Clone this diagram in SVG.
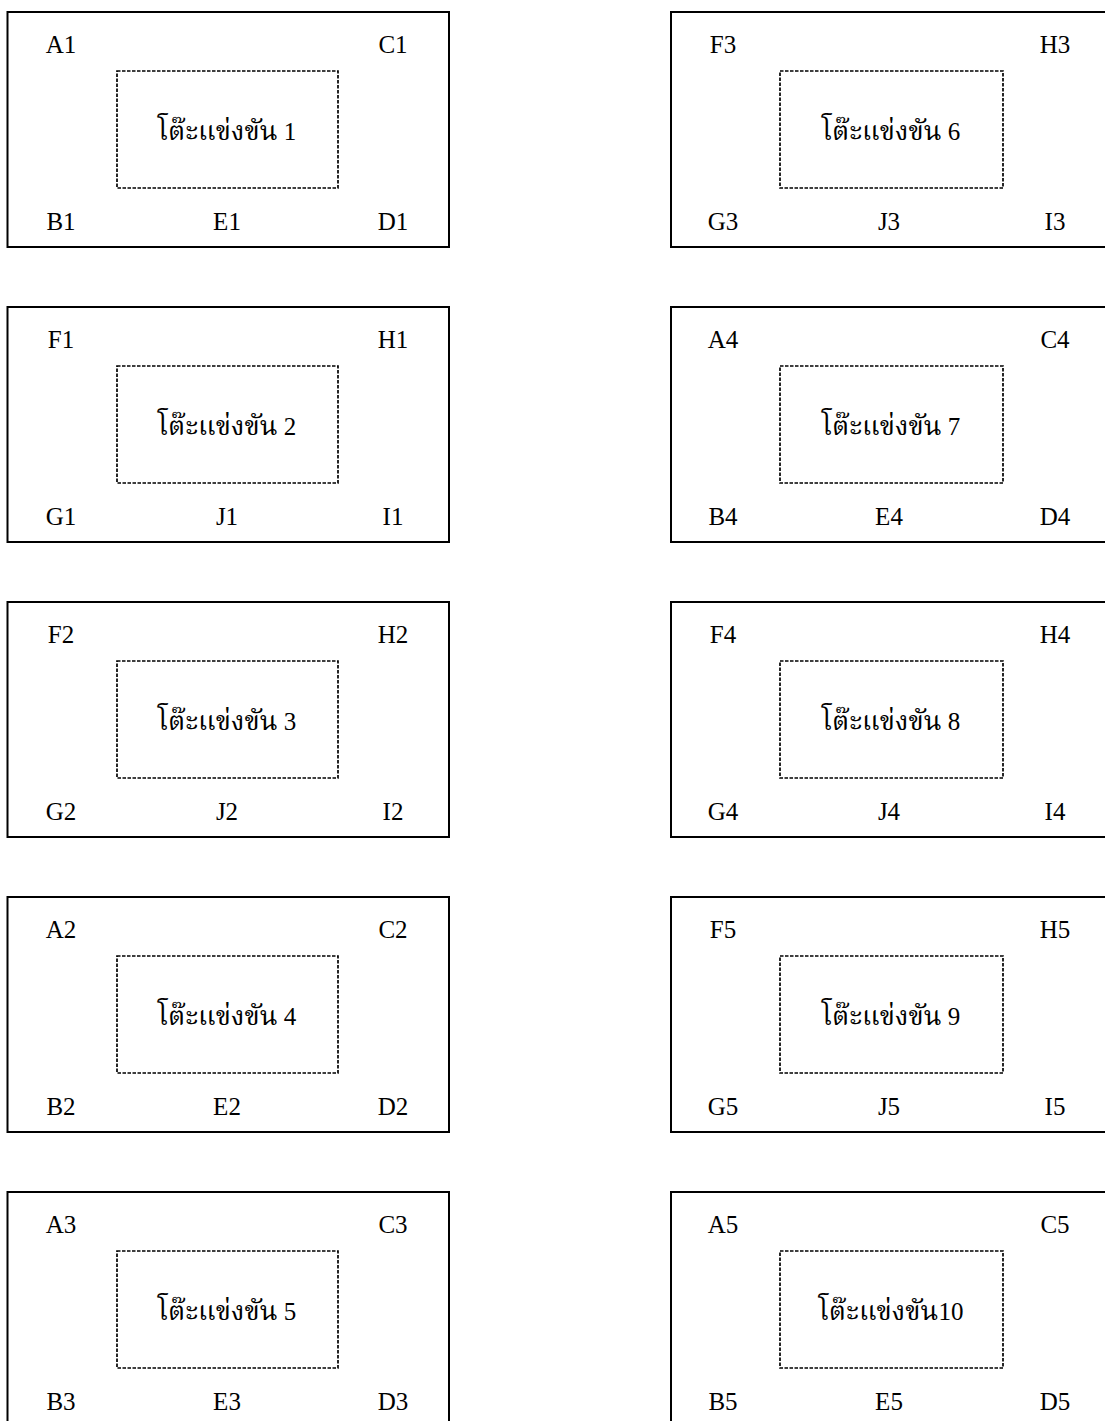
<svg xmlns="http://www.w3.org/2000/svg" width="1105" height="1421" viewBox="0 0 1105 1421">
<style>
.outer{fill:#fff;stroke:#000;stroke-width:2}
.inner{fill:none;stroke:#000;stroke-width:1.7;stroke-dasharray:3.5 1.5}
text{font-family:"Liberation Serif","Times New Roman",serif;font-size:25px;fill:#000;text-anchor:middle}
.th{font-family:"Noto Serif Thai","Liberation Serif","Noto Sans Thai",serif;font-size:27px}
.n{font-family:"Liberation Serif","Times New Roman",serif;font-size:25px}
</style>
<rect width="1105" height="1421" fill="#fff"/>
<defs>
<g id="L">
<rect class="outer" x="7.5" y="12" width="441.5" height="235"/>
<rect class="inner" x="117" y="71" width="221" height="117"/>
</g>
<g id="R">
<rect class="outer" x="671" y="12" width="442" height="235"/>
<rect class="inner" x="780" y="71" width="223" height="117"/>
</g>
</defs>
<g id="connectors"/>
<g id="t1"><use href="#L"/><text x="61" y="53">A1</text><text x="393" y="53">C1</text><text class="th" x="227" y="140">โต๊ะแข่งขัน<tspan class="n"> 1</tspan></text><text x="61" y="230">B1</text><text x="227" y="230">E1</text><text x="393" y="230">D1</text></g>
<g id="t2" transform="translate(0,295)"><use href="#L"/><text x="61" y="53">F1</text><text x="393" y="53">H1</text><text class="th" x="227" y="140">โต๊ะแข่งขัน<tspan class="n"> 2</tspan></text><text x="61" y="230">G1</text><text x="227" y="230">J1</text><text x="393" y="230">I1</text></g>
<g id="t3" transform="translate(0,590)"><use href="#L"/><text x="61" y="53">F2</text><text x="393" y="53">H2</text><text class="th" x="227" y="140">โต๊ะแข่งขัน<tspan class="n"> 3</tspan></text><text x="61" y="230">G2</text><text x="227" y="230">J2</text><text x="393" y="230">I2</text></g>
<g id="t4" transform="translate(0,885)"><use href="#L"/><text x="61" y="53">A2</text><text x="393" y="53">C2</text><text class="th" x="227" y="140">โต๊ะแข่งขัน<tspan class="n"> 4</tspan></text><text x="61" y="230">B2</text><text x="227" y="230">E2</text><text x="393" y="230">D2</text></g>
<g id="t5" transform="translate(0,1180)"><use href="#L"/><text x="61" y="53">A3</text><text x="393" y="53">C3</text><text class="th" x="227" y="140">โต๊ะแข่งขัน<tspan class="n"> 5</tspan></text><text x="61" y="230">B3</text><text x="227" y="230">E3</text><text x="393" y="230">D3</text></g>
<g id="t6"><use href="#R"/><text x="723" y="53">F3</text><text x="1055" y="53">H3</text><text class="th" x="891" y="140">โต๊ะแข่งขัน<tspan class="n"> 6</tspan></text><text x="723" y="230">G3</text><text x="889" y="230">J3</text><text x="1055" y="230">I3</text></g>
<g id="t7" transform="translate(0,295)"><use href="#R"/><text x="723" y="53">A4</text><text x="1055" y="53">C4</text><text class="th" x="891" y="140">โต๊ะแข่งขัน<tspan class="n"> 7</tspan></text><text x="723" y="230">B4</text><text x="889" y="230">E4</text><text x="1055" y="230">D4</text></g>
<g id="t8" transform="translate(0,590)"><use href="#R"/><text x="723" y="53">F4</text><text x="1055" y="53">H4</text><text class="th" x="891" y="140">โต๊ะแข่งขัน<tspan class="n"> 8</tspan></text><text x="723" y="230">G4</text><text x="889" y="230">J4</text><text x="1055" y="230">I4</text></g>
<g id="t9" transform="translate(0,885)"><use href="#R"/><text x="723" y="53">F5</text><text x="1055" y="53">H5</text><text class="th" x="891" y="140">โต๊ะแข่งขัน<tspan class="n"> 9</tspan></text><text x="723" y="230">G5</text><text x="889" y="230">J5</text><text x="1055" y="230">I5</text></g>
<g id="t10" transform="translate(0,1180)"><use href="#R"/><text x="723" y="53">A5</text><text x="1055" y="53">C5</text><text class="th" x="891" y="140">โต๊ะแข่งขัน<tspan class="n">10</tspan></text><text x="723" y="230">B5</text><text x="889" y="230">E5</text><text x="1055" y="230">D5</text></g>
</svg>
